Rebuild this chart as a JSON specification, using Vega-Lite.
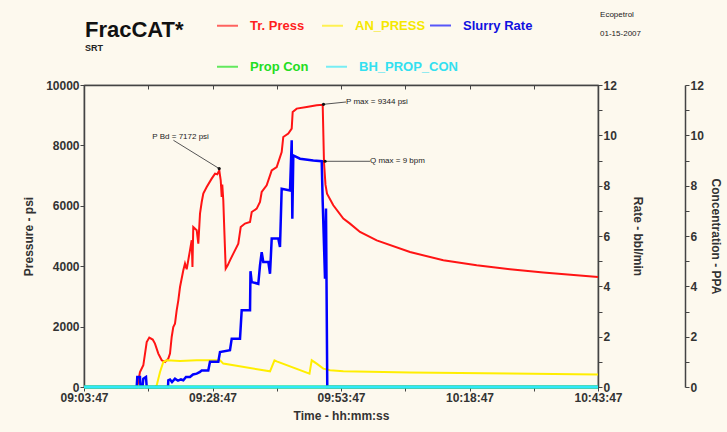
{
  "$schema": "https://vega.github.io/schema/vega-lite/v6.json",
  "width": 514,
  "height": 302,
  "autosize": {"type": "none"},
  "padding": {"left": 84, "top": 85, "right": 129, "bottom": 45},
  "background": "#fdf9ee",
  "title": {
    "text": "FracCAT*",
    "subtitle": "SRT",
    "anchor": "start",
    "frame": "group",
    "font": "Liberation Sans",
    "fontSize": 22,
    "fontWeight": "bold",
    "color": "#111111",
    "subtitleFont": "Liberation Sans",
    "subtitleFontSize": 9,
    "subtitleFontWeight": "bold",
    "subtitleColor": "#222222",
    "subtitlePadding": 2,
    "offset": 0,
    "dy": 43,
    "dx": 1
  },
  "datasets": {
    "series": [
      {"s": "Tr. Press", "t": 0, "v": 0},
      {"s": "Tr. Press", "t": 10.12, "v": 0},
      {"s": "Tr. Press", "t": 10.37, "v": 0},
      {"s": "Tr. Press", "t": 10.89, "v": 497},
      {"s": "Tr. Press", "t": 11.54, "v": 718},
      {"s": "Tr. Press", "t": 12.2, "v": 1490},
      {"s": "Tr. Press", "t": 12.7, "v": 1636},
      {"s": "Tr. Press", "t": 13.37, "v": 1570},
      {"s": "Tr. Press", "t": 13.81, "v": 1437},
      {"s": "Tr. Press", "t": 14.46, "v": 1106},
      {"s": "Tr. Press", "t": 15.12, "v": 884},
      {"s": "Tr. Press", "t": 15.76, "v": 828},
      {"s": "Tr. Press", "t": 16.4, "v": 940},
      {"s": "Tr. Press", "t": 16.73, "v": 1106},
      {"s": "Tr. Press", "t": 17.06, "v": 1656},
      {"s": "Tr. Press", "t": 17.37, "v": 1987},
      {"s": "Tr. Press", "t": 17.7, "v": 2099},
      {"s": "Tr. Press", "t": 18.03, "v": 2540},
      {"s": "Tr. Press", "t": 18.35, "v": 2871},
      {"s": "Tr. Press", "t": 18.68, "v": 3311},
      {"s": "Tr. Press", "t": 19.32, "v": 3864},
      {"s": "Tr. Press", "t": 19.65, "v": 4086},
      {"s": "Tr. Press", "t": 19.98, "v": 3900},
      {"s": "Tr. Press", "t": 20.62, "v": 4526},
      {"s": "Tr. Press", "t": 20.95, "v": 4858},
      {"s": "Tr. Press", "t": 21.1, "v": 3974},
      {"s": "Tr. Press", "t": 21.26, "v": 5298},
      {"s": "Tr. Press", "t": 21.93, "v": 5188},
      {"s": "Tr. Press", "t": 22.24, "v": 4748},
      {"s": "Tr. Press", "t": 22.57, "v": 5742},
      {"s": "Tr. Press", "t": 22.9, "v": 6126},
      {"s": "Tr. Press", "t": 23.21, "v": 6404},
      {"s": "Tr. Press", "t": 23.87, "v": 6623},
      {"s": "Tr. Press", "t": 24.84, "v": 6900},
      {"s": "Tr. Press", "t": 25.49, "v": 7066},
      {"s": "Tr. Press", "t": 25.93, "v": 7043},
      {"s": "Tr. Press", "t": 26.32, "v": 7172},
      {"s": "Tr. Press", "t": 26.6, "v": 6844},
      {"s": "Tr. Press", "t": 26.79, "v": 6291},
      {"s": "Tr. Press", "t": 26.9, "v": 6700},
      {"s": "Tr. Press", "t": 27.1, "v": 6182},
      {"s": "Tr. Press", "t": 27.3, "v": 5189},
      {"s": "Tr. Press", "t": 27.57, "v": 3921},
      {"s": "Tr. Press", "t": 27.96, "v": 4030},
      {"s": "Tr. Press", "t": 28.4, "v": 4195},
      {"s": "Tr. Press", "t": 29.05, "v": 4417},
      {"s": "Tr. Press", "t": 30.02, "v": 4748},
      {"s": "Tr. Press", "t": 30.49, "v": 5298},
      {"s": "Tr. Press", "t": 31.32, "v": 5411},
      {"s": "Tr. Press", "t": 32.3, "v": 5464},
      {"s": "Tr. Press", "t": 32.63, "v": 5795},
      {"s": "Tr. Press", "t": 33.6, "v": 5907},
      {"s": "Tr. Press", "t": 34.24, "v": 6126},
      {"s": "Tr. Press", "t": 34.57, "v": 6457},
      {"s": "Tr. Press", "t": 35.54, "v": 6679},
      {"s": "Tr. Press", "t": 36.52, "v": 7175},
      {"s": "Tr. Press", "t": 37.49, "v": 7285},
      {"s": "Tr. Press", "t": 38.46, "v": 7781},
      {"s": "Tr. Press", "t": 38.77, "v": 8278},
      {"s": "Tr. Press", "t": 39.75, "v": 8390},
      {"s": "Tr. Press", "t": 40.41, "v": 8556},
      {"s": "Tr. Press", "t": 40.6, "v": 9106},
      {"s": "Tr. Press", "t": 41.38, "v": 9218},
      {"s": "Tr. Press", "t": 43.33, "v": 9272},
      {"s": "Tr. Press", "t": 45.27, "v": 9327},
      {"s": "Tr. Press", "t": 46.44, "v": 9344},
      {"s": "Tr. Press", "t": 46.69, "v": 7450},
      {"s": "Tr. Press", "t": 46.98, "v": 6700},
      {"s": "Tr. Press", "t": 47.28, "v": 6400},
      {"s": "Tr. Press", "t": 48.5, "v": 6017},
      {"s": "Tr. Press", "t": 50.45, "v": 5576},
      {"s": "Tr. Press", "t": 51.75, "v": 5410},
      {"s": "Tr. Press", "t": 53.7, "v": 5132},
      {"s": "Tr. Press", "t": 56.95, "v": 4857},
      {"s": "Tr. Press", "t": 63.42, "v": 4470},
      {"s": "Tr. Press", "t": 69.9, "v": 4195},
      {"s": "Tr. Press", "t": 76.4, "v": 4030},
      {"s": "Tr. Press", "t": 82.88, "v": 3897},
      {"s": "Tr. Press", "t": 89.36, "v": 3788},
      {"s": "Tr. Press", "t": 100, "v": 3642},
      {"s": "AN_PRESS", "t": 0, "v": 0},
      {"s": "AN_PRESS", "t": 13.81, "v": 0},
      {"s": "AN_PRESS", "t": 14.14, "v": 50},
      {"s": "AN_PRESS", "t": 14.79, "v": 497},
      {"s": "AN_PRESS", "t": 15.43, "v": 828},
      {"s": "AN_PRESS", "t": 16.09, "v": 884},
      {"s": "AN_PRESS", "t": 18.68, "v": 861},
      {"s": "AN_PRESS", "t": 21.93, "v": 884},
      {"s": "AN_PRESS", "t": 24.51, "v": 884},
      {"s": "AN_PRESS", "t": 26.46, "v": 884},
      {"s": "AN_PRESS", "t": 27.1, "v": 775},
      {"s": "AN_PRESS", "t": 36.19, "v": 520},
      {"s": "AN_PRESS", "t": 37.06, "v": 884},
      {"s": "AN_PRESS", "t": 37.49, "v": 850},
      {"s": "AN_PRESS", "t": 43.87, "v": 440},
      {"s": "AN_PRESS", "t": 44.3, "v": 884},
      {"s": "AN_PRESS", "t": 45.27, "v": 775},
      {"s": "AN_PRESS", "t": 46.56, "v": 609},
      {"s": "AN_PRESS", "t": 47.86, "v": 553},
      {"s": "AN_PRESS", "t": 50.45, "v": 520},
      {"s": "AN_PRESS", "t": 63.42, "v": 477},
      {"s": "AN_PRESS", "t": 82.88, "v": 444},
      {"s": "AN_PRESS", "t": 100, "v": 410},
      {"s": "Slurry Rate", "t": 0, "v": 0},
      {"s": "Slurry Rate", "t": 10.25, "v": 0},
      {"s": "Slurry Rate", "t": 10.37, "v": 0.4},
      {"s": "Slurry Rate", "t": 10.89, "v": 0.4},
      {"s": "Slurry Rate", "t": 10.99, "v": 0},
      {"s": "Slurry Rate", "t": 11.38, "v": 0},
      {"s": "Slurry Rate", "t": 11.54, "v": 0.33},
      {"s": "Slurry Rate", "t": 12.06, "v": 0.4},
      {"s": "Slurry Rate", "t": 12.2, "v": 0},
      {"s": "Slurry Rate", "t": 16.34, "v": 0},
      {"s": "Slurry Rate", "t": 16.4, "v": 0.27},
      {"s": "Slurry Rate", "t": 16.73, "v": 0.3},
      {"s": "Slurry Rate", "t": 17.12, "v": 0.2},
      {"s": "Slurry Rate", "t": 17.7, "v": 0.33},
      {"s": "Slurry Rate", "t": 18.29, "v": 0.25},
      {"s": "Slurry Rate", "t": 18.87, "v": 0.3},
      {"s": "Slurry Rate", "t": 19.32, "v": 0.27},
      {"s": "Slurry Rate", "t": 19.84, "v": 0.4},
      {"s": "Slurry Rate", "t": 20.62, "v": 0.4},
      {"s": "Slurry Rate", "t": 21.21, "v": 0.5},
      {"s": "Slurry Rate", "t": 21.93, "v": 0.53},
      {"s": "Slurry Rate", "t": 22.57, "v": 0.6},
      {"s": "Slurry Rate", "t": 22.9, "v": 0.66},
      {"s": "Slurry Rate", "t": 24.18, "v": 0.66},
      {"s": "Slurry Rate", "t": 24.51, "v": 1.0},
      {"s": "Slurry Rate", "t": 26.13, "v": 1.0},
      {"s": "Slurry Rate", "t": 26.46, "v": 1.39},
      {"s": "Slurry Rate", "t": 28.4, "v": 1.46},
      {"s": "Slurry Rate", "t": 28.74, "v": 1.92},
      {"s": "Slurry Rate", "t": 30.35, "v": 1.92},
      {"s": "Slurry Rate", "t": 30.68, "v": 3.05},
      {"s": "Slurry Rate", "t": 32.3, "v": 3.05},
      {"s": "Slurry Rate", "t": 32.39, "v": 4.6},
      {"s": "Slurry Rate", "t": 32.63, "v": 4.17},
      {"s": "Slurry Rate", "t": 33.91, "v": 4.1},
      {"s": "Slurry Rate", "t": 34.24, "v": 4.83},
      {"s": "Slurry Rate", "t": 34.57, "v": 5.36},
      {"s": "Slurry Rate", "t": 34.88, "v": 4.97},
      {"s": "Slurry Rate", "t": 35.86, "v": 4.97},
      {"s": "Slurry Rate", "t": 36.19, "v": 4.5},
      {"s": "Slurry Rate", "t": 36.52, "v": 5.9},
      {"s": "Slurry Rate", "t": 37.8, "v": 5.9},
      {"s": "Slurry Rate", "t": 38.13, "v": 5.56},
      {"s": "Slurry Rate", "t": 38.46, "v": 7.88},
      {"s": "Slurry Rate", "t": 40.08, "v": 7.81},
      {"s": "Slurry Rate", "t": 40.41, "v": 9.8},
      {"s": "Slurry Rate", "t": 40.53, "v": 6.69},
      {"s": "Slurry Rate", "t": 40.72, "v": 9.2},
      {"s": "Slurry Rate", "t": 42.02, "v": 9.07},
      {"s": "Slurry Rate", "t": 44.61, "v": 9.0},
      {"s": "Slurry Rate", "t": 46.25, "v": 8.97},
      {"s": "Slurry Rate", "t": 46.44, "v": 7.35},
      {"s": "Slurry Rate", "t": 46.89, "v": 4.3},
      {"s": "Slurry Rate", "t": 47.08, "v": 7.09},
      {"s": "Slurry Rate", "t": 47.33, "v": 0},
      {"s": "Slurry Rate", "t": 100, "v": 0},
      {"s": "Prop Con", "t": 0, "v": 0},
      {"s": "Prop Con", "t": 100, "v": 0},
      {"s": "BH_PROP_CON", "t": 0, "v": 0},
      {"s": "BH_PROP_CON", "t": 100, "v": 0}
    ],
    "notes": [
      {"label": "P Bd = 7172 psi", "t": 13.29, "v": 8278},
      {"label": "P max = 9344 psi", "t": 50.97, "v": 9437},
      {"label": "Q max = 9 bpm", "t": 55.64, "v": 7474},
      {"label": "Ecopetrol", "t": 100.4, "v": 12308},
      {"label": "01-15-2007", "t": 100.4, "v": 11679}
    ],
    "arrows": [
      {"t": 17.4, "v": 8169, "t2": 26.3, "v2": 7232},
      {"t": 50.97, "v": 9437, "t2": 46.6, "v2": 9361},
      {"t": 55.64, "v": 7474, "t2": 46.9, "v2": 7474}
    ]
  },
  "layer": [
    {
      "layer": [
        {
          "data": {"name": "series"},
          "transform": [{"filter": {"field": "s", "oneOf": ["Tr. Press", "AN_PRESS"]}}],
          "mark": {"type": "line", "strokeWidth": 2},
          "encoding": {
            "x": {
              "field": "t", "type": "quantitative",
              "scale": {"domain": [0, 100], "nice": false, "zero": false},
              "axis": {
                "orient": "bottom",
                "title": "Time - hh:mm:ss",
                "values": [0, 12.5, 25, 37.5, 50, 62.5, 75, 87.5, 100],
                "labelExpr": "datum.value % 25 === 0 ? timeFormat(datetime(2007, 0, 15, 9, 3 + datum.value, 47), '%H:%M:%S') : ''",
                "labelFlush": false,
                "labelOverlap": false,
                "titlePadding": 7
              }
            },
            "y": {
              "field": "v", "type": "quantitative",
              "scale": {"domain": [0, 10000], "nice": false},
              "axis": {
                "orient": "left",
                "title": "Pressure - psi",
                "values": [0, 1000, 2000, 3000, 4000, 5000, 6000, 7000, 8000, 9000, 10000],
                "labelExpr": "datum.value % 2000 === 0 ? datum.value : ''",
                "labelOverlap": false,
                "titlePadding": 10
              }
            },
            "color": {
              "field": "s", "type": "nominal",
              "scale": {"domain": ["Tr. Press", "AN_PRESS"], "range": ["#ff1414", "#ffee00"]},
              "legend": {
                "orient": "none",
                "legendX": 132,
                "legendY": -71,
                "direction": "horizontal",
                "title": null,
                "symbolType": "stroke",
                "symbolSize": 440,
                "symbolStrokeWidth": 2,
                "symbolOpacity": 0.65,
                "labelFont": "Liberation Sans",
                "labelFontSize": 13,
                "labelFontWeight": "bold",
                "labelOffset": 11,
                "labelLimit": 200,
                "columnPadding": 13,
                "encode": {
                  "labels": {"update": {"fill": {"signal": "datum.value === 'Tr. Press' ? '#ff1e1e' : '#f5e800'"}}}
                }
              }
            }
          }
        },
        {
          "data": {"name": "arrows"},
          "mark": {"type": "rule", "color": "#555555", "strokeWidth": 1},
          "encoding": {
            "x": {"field": "t", "type": "quantitative"},
            "y": {"field": "v", "type": "quantitative"},
            "x2": {"field": "t2"},
            "y2": {"field": "v2"}
          }
        },
        {
          "data": {"name": "arrows"},
          "mark": {"type": "point", "filled": true, "color": "#111111", "size": 10, "opacity": 1},
          "encoding": {
            "x": {"field": "t2", "type": "quantitative"},
            "y": {"field": "v2", "type": "quantitative"}
          }
        },
        {
          "data": {"name": "notes"},
          "mark": {"type": "text", "align": "left", "baseline": "middle", "font": "Liberation Sans", "fontSize": 8, "color": "#222222"},
          "encoding": {
            "x": {"field": "t", "type": "quantitative"},
            "y": {"field": "v", "type": "quantitative"},
            "text": {"field": "label"}
          }
        }
      ]
    },
    {
      "data": {"name": "series"},
      "transform": [{"filter": {"field": "s", "oneOf": ["Slurry Rate"]}}],
      "mark": {"type": "line", "strokeWidth": 2.5},
      "encoding": {
        "x": {"field": "t", "type": "quantitative", "scale": {"domain": [0, 100], "nice": false, "zero": false}, "axis": null},
        "y": {
          "field": "v", "type": "quantitative",
          "scale": {"domain": [0, 12], "nice": false},
          "axis": {
            "orient": "right",
            "title": "Rate - bbl/min",
            "values": [0, 1, 2, 3, 4, 5, 6, 7, 8, 9, 10, 11, 12],
            "labelExpr": "datum.value % 2 === 0 ? datum.value : ''",
            "labelOverlap": false,
            "titlePadding": 14
          }
        },
        "color": {
          "field": "s", "type": "nominal",
          "scale": {"domain": ["Slurry Rate"], "range": ["#0000ff"]},
          "legend": {
            "orient": "none",
            "legendX": 345,
            "legendY": -71,
            "direction": "horizontal",
            "title": null,
            "symbolType": "stroke",
            "symbolSize": 440,
            "symbolStrokeWidth": 2,
            "symbolOpacity": 0.65,
            "labelFont": "Liberation Sans",
            "labelFontSize": 13,
            "labelFontWeight": "bold",
            "labelOffset": 11,
            "labelLimit": 200,
            "labelColor": "#1010e0"
          }
        }
      }
    },
    {
      "data": {"name": "series"},
      "transform": [{"filter": {"field": "s", "oneOf": ["Prop Con", "BH_PROP_CON"]}}],
      "mark": {"type": "line", "strokeWidth": 3},
      "encoding": {
        "x": {
          "field": "t", "type": "quantitative",
          "scale": {"domain": [0, 100], "nice": false, "zero": false},
          "axis": {"orient": "top", "title": null, "labels": false, "values": [0, 12.5, 25, 37.5, 50, 62.5, 75, 87.5, 100], "tickSize": -4}
        },
        "y": {
          "field": "v", "type": "quantitative",
          "scale": {"domain": [0, 12], "nice": false},
          "axis": {
            "orient": "right",
            "offset": 87,
            "title": "Concentration - PPA",
            "values": [0, 1, 2, 3, 4, 5, 6, 7, 8, 9, 10, 11, 12],
            "labelExpr": "datum.value % 2 === 0 ? datum.value : ''",
            "labelOverlap": false,
            "titlePadding": 5
          }
        },
        "color": {
          "field": "s", "type": "nominal",
          "scale": {"domain": ["Prop Con", "BH_PROP_CON"], "range": ["#10e010", "#30e8f8"]},
          "legend": {
            "orient": "none",
            "legendX": 132,
            "legendY": -30,
            "direction": "horizontal",
            "title": null,
            "symbolType": "stroke",
            "symbolSize": 440,
            "symbolStrokeWidth": 2,
            "symbolOpacity": 0.65,
            "labelFont": "Liberation Sans",
            "labelFontSize": 13,
            "labelFontWeight": "bold",
            "labelOffset": 11,
            "labelLimit": 200,
            "columnPadding": 13,
            "encode": {
              "labels": {"update": {"fill": {"signal": "datum.value === 'Prop Con' ? '#22dd22' : '#33e0f0'"}}}
            }
          }
        }
      }
    }
  ],
  "resolve": {"scale": {"y": "independent", "color": "independent"}, "axis": {"x": "independent"}},
  "config": {
    "view": {"stroke": "#444444", "strokeWidth": 1.2},
    "axis": {
      "labelFont": "Liberation Sans",
      "labelFontWeight": "bold",
      "labelFontSize": 12,
      "labelColor": "#333333",
      "titleFont": "Liberation Sans",
      "titleFontWeight": "bold",
      "titleFontSize": 12,
      "titleColor": "#333333",
      "domainColor": "#444444",
      "domainWidth": 1.5,
      "tickColor": "#444444",
      "tickSize": 4,
      "labelPadding": 1,
      "grid": false
    }
  }
}
